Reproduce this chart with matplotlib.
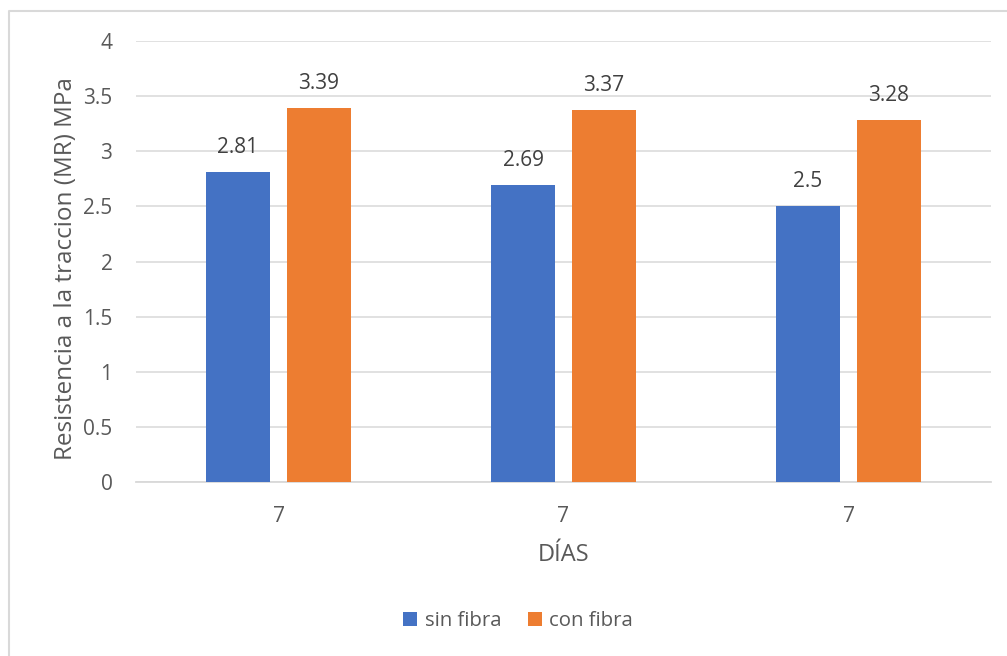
import matplotlib.pyplot as plt
import numpy as np
from matplotlib.lines import Line2D

plt.rcParams['font.family'] = ['Open Sans', 'DejaVu Sans']

categories = ['7', '7', '7']
sin_fibra = [2.81, 2.69, 2.5]
con_fibra = [3.39, 3.37, 3.28]

blue = '#4472C4'
orange = '#ED7D31'
text_gray = '#595959'
grid_gray = '#D9D9D9'

fig = plt.figure(figsize=(10.07, 6.56), dpi=100)
ax = fig.add_axes([136 / 1007, 1 - 482 / 656, 855 / 1007, 441 / 656])

x = np.arange(len(categories))
w = 0.225
off = 0.142
b1 = ax.bar(x - off, sin_fibra, w, color=blue, label='sin fibra', zorder=3)
b2 = ax.bar(x + off, con_fibra, w, color=orange, label='con fibra', zorder=3)

# value labels above each bar
for bars, vals in ((b1, sin_fibra), (b2, con_fibra)):
    for rect, v in zip(bars, vals):
        ax.annotate(f'{v:g}', xy=(rect.get_x() + rect.get_width() / 2, v),
                    xytext=(0, 18), textcoords='offset points',
                    ha='center', va='center', fontsize=15, color='#404040')

ax.set_xlim(-0.5, len(categories) - 0.5)
ax.set_ylim(0, 4)
ax.set_yticks(np.arange(0, 4.01, 0.5))
ax.set_yticklabels(['0', '0.5', '1', '1.5', '2', '2.5', '3', '3.5', '4'])
ax.set_xticks(x)
ax.set_xticklabels(categories)
ax.tick_params(axis='both', length=0, labelsize=15, colors=text_gray)
ax.tick_params(axis='y', pad=17)
ax.tick_params(axis='x', pad=17)

ax.grid(axis='y', color=grid_gray, linewidth=1.1, zorder=0)
for s in ('top', 'right', 'left'):
    ax.spines[s].set_visible(False)
ax.spines['bottom'].set_color(grid_gray)
ax.spines['bottom'].set_linewidth(1.3)

ax.set_ylabel('Resistencia a la traccion (MR) MPa', fontsize=17.5, color=text_gray)
ax.yaxis.set_label_coords(-0.068, 0.483)
ax.set_xlabel('DÍAS', fontsize=17, color=text_gray, labelpad=12)

fig.legend(loc='center', bbox_to_anchor=(518 / 1007, 1 - 621 / 656), ncol=2,
           frameon=False, fontsize=14.7, labelcolor=text_gray,
           handlelength=0.7, handleheight=0.7, handletextpad=0.35, columnspacing=1.3)

# outer chart border
fig.add_artist(Line2D([9 / 1007, 9 / 1007, 1], [0, 1 - 11 / 656, 1 - 11 / 656],
                      transform=fig.transFigure, color=grid_gray, linewidth=1.5))

fig.savefig('out.png', dpi=100)
